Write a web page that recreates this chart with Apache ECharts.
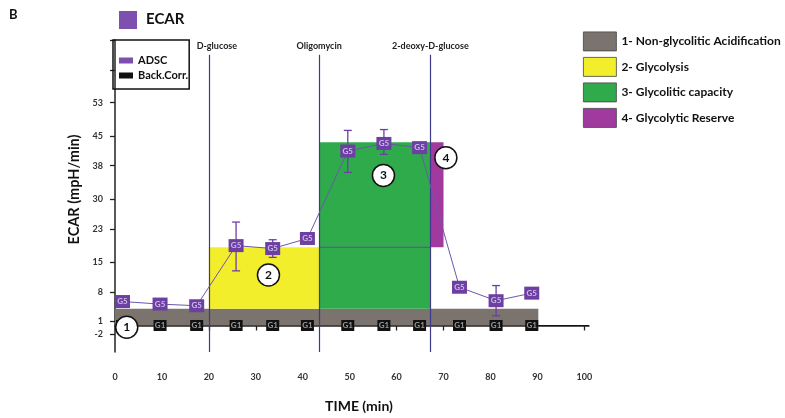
<!DOCTYPE html>
<html>
<head>
<meta charset="utf-8">
<script src="https://cdn.jsdelivr.net/npm/echarts@6/dist/echarts.min.js"></script>
<style>
  html, body { margin: 0; padding: 0; background: #fff; }
  #chart { width: 785px; height: 418px; }
</style>
</head>
<body>
<div id="chart"></div>
<script>
// Measurement times (min)
const times = [1.6, 9.6, 17.4, 25.8, 33.6, 41.0, 49.6, 57.3, 64.9, 73.4, 81.2, 88.8];
// ECAR of ADSC wells (mpH/min)
const adscEcar = [5.7, 5.1, 4.7, 19.0, 18.3, 20.7, 41.5, 43.3, 42.3, 9.1, 5.9, 7.7];
// Error bar limits (null = none drawn)
const adscErrLow  = [null, null, null, 13.0, 16.2, null, 36.4, 40.7, null, null, 2.3, null];
const adscErrHigh = [null, null, null, 24.6, 20.4, null, 46.4, 46.6, null, null, 9.5, null];
// Background-correction wells
const backCorr = [0, 0, 0, 0, 0, 0, 0, 0, 0, 0, 0, 0];

// Compound injections
const injections = ['D-glucose', 'Oligomycin', '2-deoxy-D-glucose'];
const injectionTimes = [20, 43.5, 67.2];
const injectionTop = 64.4;

// Shaded glycolysis stress test regions
const regionNames = ['1- Non-glycolitic Acidification', '2- Glycolysis', '3- Glycolitic capacity', '4- Glycolytic Reserve'];
const regionX0 = [0, 20, 43.5, 67.2];
const regionX1 = [90.2, 43.5, 67.2, 70];
const regionY0 = [0, 4, 4, 18.6];
const regionY1 = [4, 18.6, 43.6, 43.6];
const regionColors = ['#7b736e', '#f3ee2c', '#2fab4b', '#a13a9f'];

// Glycolysis level carried across the oligomycin phase
const glycoLevelX = [43.5, 67.2];
const glycoLevelY = [18.6, 18.6];

// Numbered region markers
const zoneLabels = ['1', '2', '3', '4'];
const zoneX = [2.5, 32.7, 57.2, 70.5];
const zoneY = [-0.4, 12.0, 35.7, 39.9];

// Axis ticks
const xTicks = [0, 10, 20, 30, 40, 50, 60, 70, 80, 90, 100];
const yTickLabels = [-2, 1, 8, 15, 23, 30, 38, 45, 53];
const yExtraTicks = [60.8, 67.9];

const FONT = 'Lato';
const PURPLE = '#6e3fa3';

const chart = echarts.init(document.getElementById('chart'), null, { renderer: 'canvas' });

const regionSeries = regionNames.map((name, i) => ({
  name: name,
  type: 'custom',
  z: 1,
  silent: true,
  data: [[regionX0[i], regionX1[i], regionY0[i], regionY1[i]]],
  renderItem: function (params, api) {
    const p0 = api.coord([api.value(0), api.value(3)]);
    const p1 = api.coord([api.value(1), api.value(2)]);
    return {
      type: 'rect',
      shape: { x: p0[0], y: p0[1], width: p1[0] - p0[0], height: p1[1] - p0[1] },
      style: { fill: regionColors[i] }
    };
  }
}));

const errData = [];
times.forEach((t, i) => {
  if (adscErrLow[i] !== null) errData.push([t, adscErrLow[i], adscErrHigh[i]]);
});

const option = {
  animation: false,
  backgroundColor: '#ffffff',
  textStyle: { fontFamily: FONT },
  grid: { left: 115, right: 196, top: 40, bottom: 64.7 },
  xAxis: {
    type: 'value',
    min: 0,
    max: 101,
    name: 'TIME (min)',
    nameLocation: 'middle',
    nameGap: 47,
    nameTextStyle: { fontFamily: FONT, fontWeight: 'bold', fontSize: 14, color: '#111', padding: [0, 0, 0, 14] },
    axisLine: { show: true, lineStyle: { color: '#222', width: 1.5 } },
    axisTick: { show: true, customValues: xTicks, length: 5, lineStyle: { color: '#222', width: 1.3 } },
    axisLabel: { customValues: xTicks, fontFamily: FONT, fontWeight: 'bold', fontSize: 9, color: '#333', margin: 21 },
    splitLine: { show: false }
  },
  yAxis: {
    type: 'value',
    min: -6.3,
    max: 67.9,
    name: 'ECAR (mpH/min)',
    nameLocation: 'middle',
    nameGap: 29,
    nameTextStyle: { fontFamily: FONT, fontWeight: 'bold', fontSize: 14.5, color: '#111', padding: [0, 0, 0, 13] },
    axisLine: { show: true, lineStyle: { color: '#222', width: 1.5 } },
    axisTick: { show: true, customValues: yTickLabels.concat(yExtraTicks), length: 5, lineStyle: { color: '#222', width: 1.3 } },
    axisLabel: { customValues: yTickLabels, fontFamily: FONT, fontWeight: 'bold', fontSize: 9, color: '#333', margin: 12 },
    splitLine: { show: false }
  },
  legend: [
    {
      orient: 'vertical',
      left: 113,
      top: 40,
      padding: [15, 1, 8, 6],
      itemGap: 4,
      itemWidth: 14,
      itemHeight: 6,
      borderColor: '#111',
      borderWidth: 1.5,
      selectedMode: false,
      textStyle: { fontFamily: FONT, fontWeight: 'bold', fontSize: 11, color: '#111' },
      data: [
        { name: 'ADSC', icon: 'rect', itemStyle: { color: '#7d4fae', opacity: 1 } },
        { name: 'Back.Corr.', icon: 'rect', itemStyle: { color: '#111', opacity: 1 } }
      ]
    },
    {
      orient: 'vertical',
      left: 583,
      top: 31.5,
      padding: 0,
      itemGap: 5.7,
      itemWidth: 33,
      itemHeight: 19,
      selectedMode: false,
      textStyle: { fontFamily: FONT, fontWeight: 'bold', fontSize: 12, color: '#111' },
      data: regionNames.map((n, i) => ({
        name: n, icon: 'rect',
        itemStyle: { color: regionColors[i], borderColor: '#444', borderWidth: 0.8, opacity: 1 }
      }))
    }
  ],
  graphic: [
    { type: 'text', left: 9, top: 8, style: { text: 'B', font: 'bold 13px ' + FONT, fill: '#111' } },
    { type: 'rect', left: 119, top: 11, shape: { width: 18, height: 18 }, style: { fill: '#7d4fae' } },
    { type: 'text', left: 146, top: 12, style: { text: 'ECAR', font: 'bold 15px ' + FONT, fill: '#111' } }
  ],
  series: regionSeries.concat([
    {
      name: 'baseline',
      type: 'line',
      z: 0,
      silent: true,
      symbol: 'none',
      data: [[0, 0], [101, 0]],
      lineStyle: { color: '#111', width: 1.2 }
    },
    {
      name: 'injections',
      type: 'line',
      z: 3,
      silent: true,
      symbol: 'none',
      data: [],
      markLine: {
        silent: true,
        symbol: 'none',
        lineStyle: { color: '#3f3a8c', width: 1.2, type: 'solid' },
        label: {
          show: true,
          position: 'start',
          formatter: '{b}',
          fontFamily: FONT,
          fontWeight: 'bold',
          fontSize: 9,
          color: '#222',
          distance: 4
        },
        data: injections.map((n, i) => [
          { name: n, coord: [injectionTimes[i], injectionTop], label: i === 0 ? { offset: [8, 0] } : {} },
          { coord: [injectionTimes[i], -6.3] }
        ])
      }
    },
    {
      name: 'glycolysis level',
      type: 'line',
      z: 3,
      silent: true,
      symbol: 'none',
      data: glycoLevelX.map((x, i) => [x, glycoLevelY[i]]),
      lineStyle: { color: '#7a4aa8', width: 1.2 }
    },
    {
      name: 'errors',
      type: 'custom',
      z: 4,
      silent: true,
      data: errData,
      renderItem: function (params, api) {
        const top = api.coord([api.value(0), api.value(2)]);
        const bot = api.coord([api.value(0), api.value(1)]);
        const w = 4;
        const st = { stroke: PURPLE, lineWidth: 1.3 };
        return {
          type: 'group',
          children: [
            { type: 'line', shape: { x1: top[0], y1: top[1], x2: bot[0], y2: bot[1] }, style: st },
            { type: 'line', shape: { x1: top[0] - w, y1: top[1], x2: top[0] + w, y2: top[1] }, style: st },
            { type: 'line', shape: { x1: bot[0] - w, y1: bot[1], x2: bot[0] + w, y2: bot[1] }, style: st }
          ]
        };
      }
    },
    {
      name: 'ADSC',
      type: 'line',
      z: 5,
      data: times.map((t, i) => [t, adscEcar[i]]),
      symbol: 'rect',
      symbolSize: [15, 13],
      showAllSymbol: true,
      itemStyle: { color: PURPLE, opacity: 1 },
      lineStyle: { color: '#6c58a8', width: 1 },
      label: {
        show: true,
        position: 'inside',
        formatter: 'G5',
        fontFamily: FONT,
        fontSize: 8,
        fontWeight: 'bold',
        color: '#cbbbe6'
      }
    },
    {
      name: 'Back.Corr.',
      type: 'scatter',
      z: 5,
      data: times.map((t, i) => [t, backCorr[i]]),
      symbol: 'rect',
      symbolSize: [13, 11],
      itemStyle: { color: '#111', opacity: 1 },
      label: {
        show: true,
        position: 'inside',
        formatter: 'G1',
        fontFamily: FONT,
        fontSize: 8,
        fontWeight: 'bold',
        color: '#9a9a9a'
      }
    },
    {
      name: 'zones',
      type: 'scatter',
      z: 6,
      silent: true,
      data: zoneX.map((x, i) => [x, zoneY[i], zoneLabels[i]]),
      symbol: 'circle',
      symbolSize: 22,
      itemStyle: { color: '#ffffff', borderColor: '#111', borderWidth: 1.5, opacity: 1 },
      label: {
        show: true,
        position: 'inside',
        formatter: p => p.value[2],
        fontFamily: FONT,
        fontSize: 12,
        fontWeight: 'bold',
        color: '#111'
      }
    }
  ])
};

chart.setOption(option);
</script>
</body>
</html>
